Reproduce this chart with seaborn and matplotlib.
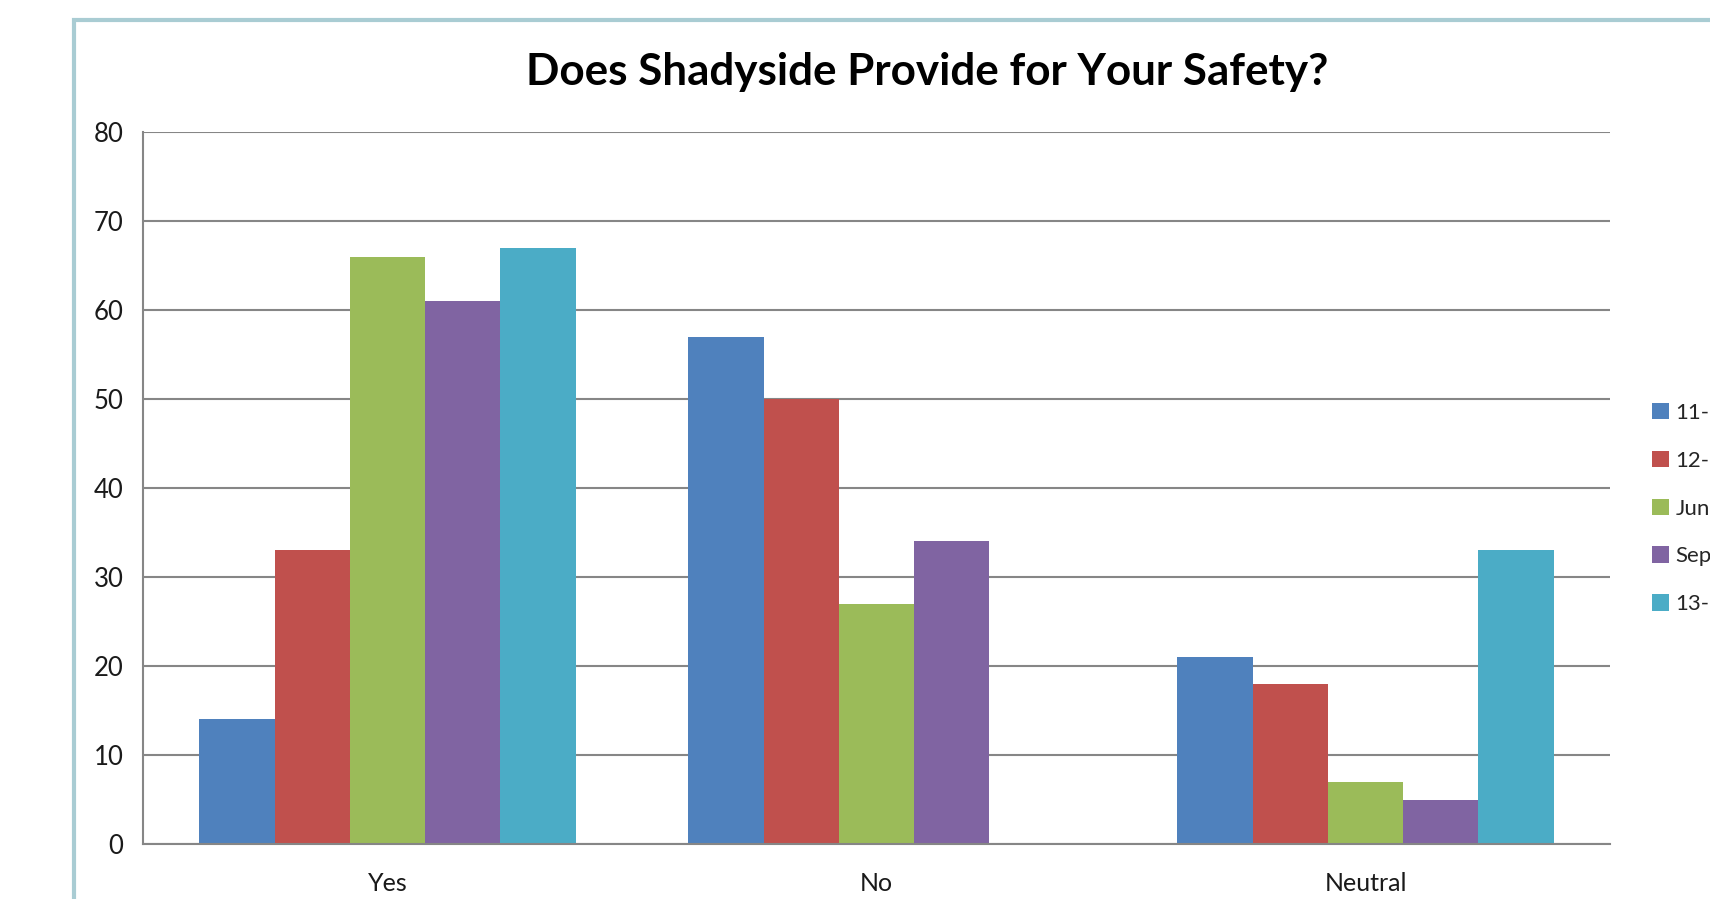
import matplotlib
matplotlib.use("Agg")
import matplotlib.pyplot as plt
import seaborn as sns
import pandas as pd
import numpy as np
from matplotlib.patches import Patch, Rectangle

categories = ["Yes", "No", "Neutral"]
series = ["11-", "12-", "Jun", "Sep", "13-"]
v_11 = [14, 57, 21]
v_12 = [33, 50, 18]
v_jun = [66, 27, 7]
v_sep = [61, 34, 5]
v_13 = [67, np.nan, 33]
colors = ["#4F81BD", "#C0504D", "#9BBB59", "#8064A2", "#4BACC6"]
yticks = [0, 10, 20, 30, 40, 50, 60, 70, 80]

rows = []
for s, vals in zip(series, [v_11, v_12, v_jun, v_sep, v_13]):
    for c, v in zip(categories, vals):
        rows.append({"cat": c, "series": s, "value": v})
df = pd.DataFrame(rows)

sns.set_theme(style="white")
plt.rcParams["font.family"] = ["Lato", "DejaVu Sans"]

fig = plt.figure(figsize=(17.1, 8.99), dpi=100)
ax = fig.add_axes([143/1710, 55/899, (1610-143)/1710, (844-132)/899])

sns.barplot(data=df, x="cat", y="value", hue="series", order=categories,
            hue_order=series, palette=colors, width=0.77, gap=0,
            saturation=1, legend=False, ax=ax, errorbar=None, linewidth=0)

ax.set_xlim(-0.5, 2.5)
ax.set_ylim(0, 80)
ax.set_yticks(yticks)
ax.yaxis.grid(True, color="#868686", linewidth=1.5)
ax.set_axisbelow(True)
for side in ["top", "right"]:
    ax.spines[side].set_visible(False)
for side in ["left", "bottom"]:
    ax.spines[side].set_color("#868686")
    ax.spines[side].set_linewidth(1.5)
ax.tick_params(axis="y", labelsize=18.5, length=0, pad=14, colors="#1a1a1a")
ax.tick_params(axis="x", labelsize=18, length=0, pad=20, colors="#1a1a1a")
ax.set_xlabel("")
ax.set_ylabel("")

fig.text(0.542, 0.920, "Does Shadyside Provide for Your Safety?", ha="center",
         va="center", fontsize=31.7, fontweight="bold", color="black")

handles = [Patch(facecolor=c, edgecolor="none") for c in colors]
fig.legend(handles, series, loc="upper left", bbox_to_anchor=(1652/1710, 1 - 403/899),
           frameon=False, fontsize=16, handlelength=0.75, handleheight=0.75,
           handletextpad=0.3, labelspacing=1.25, borderaxespad=0, borderpad=0)

fig.patches.append(Rectangle((74/1710, -0.1), 1.2, 1 - 20/899 + 0.1,
                             transform=fig.transFigure, fill=False,
                             edgecolor="#A9CCD3", linewidth=3))

fig.savefig("out.png", dpi=100)
